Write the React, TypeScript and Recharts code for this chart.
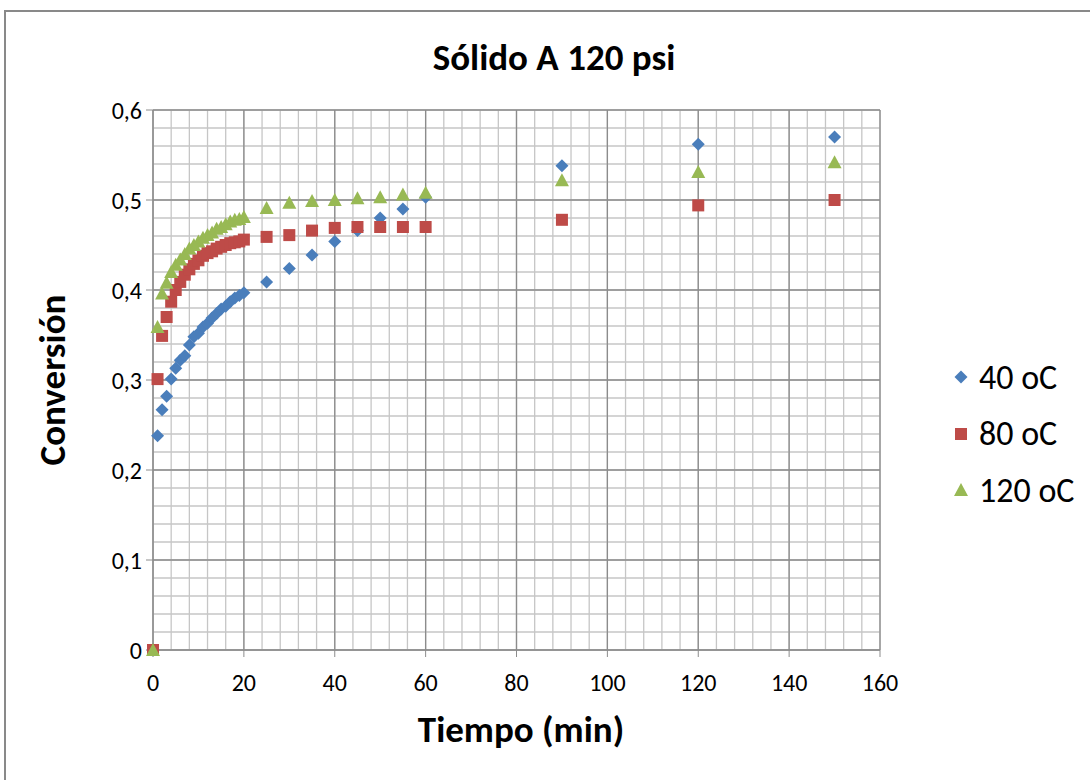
import React from "react"
import { ScatterChart, Scatter, XAxis, YAxis, CartesianGrid } from "recharts"

const tiempo = [0, 1, 2, 3, 4, 5, 6, 7, 8, 9, 10, 11, 12, 13, 14, 15, 16, 17, 18, 19, 20, 25, 30, 35, 40, 45, 50, 55, 60, 90, 120, 150]

const conv40 = [0, 0.238, 0.267, 0.282, 0.301, 0.313, 0.322, 0.327, 0.339, 0.348, 0.352, 0.359, 0.363, 0.369, 0.374, 0.379, 0.382, 0.387, 0.391, 0.394, 0.397, 0.409, 0.424, 0.439, 0.454, 0.466, 0.48, 0.49, 0.503, 0.538, 0.562, 0.57]
const conv80 = [0, 0.301, 0.349, 0.37, 0.387, 0.4, 0.409, 0.417, 0.423, 0.429, 0.433, 0.438, 0.441, 0.443, 0.446, 0.448, 0.45, 0.452, 0.453, 0.454, 0.456, 0.459, 0.461, 0.466, 0.469, 0.47, 0.47, 0.47, 0.47, 0.478, 0.494, 0.5]
const conv120 = [0, 0.359, 0.396, 0.408, 0.42, 0.428, 0.434, 0.44, 0.446, 0.45, 0.454, 0.458, 0.461, 0.464, 0.468, 0.47, 0.473, 0.476, 0.478, 0.479, 0.481, 0.491, 0.497, 0.499, 0.5, 0.502, 0.503, 0.506, 0.508, 0.522, 0.531, 0.542]

const xTicks = [0, 20, 40, 60, 80, 100, 120, 140, 160]
const yTicks = [0, 0.1, 0.2, 0.3, 0.4, 0.5, 0.6]
const xMinorTicks = [0, 4, 8, 12, 16, 20, 24, 28, 32, 36, 40, 44, 48, 52, 56, 60, 64, 68, 72, 76, 80, 84, 88, 92, 96, 100, 104, 108, 112, 116, 120, 124, 128, 132, 136, 140, 144, 148, 152, 156, 160]
const yMinorTicks = [0, 0.02, 0.04, 0.06, 0.08, 0.1, 0.12, 0.14, 0.16, 0.18, 0.2, 0.22, 0.24, 0.26, 0.28, 0.3, 0.32, 0.34, 0.36, 0.38, 0.4, 0.42, 0.44, 0.46, 0.48, 0.5, 0.52, 0.54, 0.56, 0.58, 0.6]

const series = [
  { name: "40 oC", values: conv40, color: "#4A7EBB", shape: "diamond" },
  { name: "80 oC", values: conv80, color: "#BE4B48", shape: "square" },
  { name: "120 oC", values: conv120, color: "#98B954", shape: "triangle" },
]

const font = "Carlito, Calibri, 'Liberation Sans', sans-serif"
const X_MAX = 160
const Y_MAX = 0.6

function Marker({ cx, cy, shape, color }: any) {
  if (cx == null || cy == null) return null
  if (shape === "diamond") {
    const r = 6.5
    return <polygon points={`${cx},${cy - r} ${cx + r},${cy} ${cx},${cy + r} ${cx - r},${cy}`} fill={color} />
  }
  if (shape === "square") {
    const r = 6
    return <rect x={cx - r} y={cy - r} width={2 * r} height={2 * r} fill={color} />
  }
  const r = 7
  return <polygon points={`${cx},${cy - r} ${cx + r},${cy + 6} ${cx - r},${cy + 6}`} fill={color} />
}

function LegendBox() {
  return (
    <div style={{ fontFamily: font, fontSize: 34, color: "#000" }}>
      {series.map((s) => (
        <div key={s.name} style={{ display: "flex", alignItems: "center", height: 56.5 }}>
          <svg width={20} height={20} style={{ marginRight: 8 }}>
            <Marker cx={10} cy={10} shape={s.shape} color={s.color} />
          </svg>
          <span>{s.name}</span>
        </div>
      ))}
    </div>
  )
}

const fmt = (v: number) => String(v).replace(".", ",")

// minor grid positions, via the axis scale when it is passed in
const minorX = ({ xAxis, offset }: any) =>
  xMinorTicks.map((v) =>
    xAxis && typeof xAxis.scale === "function" ? xAxis.scale(v) : offset.left + (v / X_MAX) * offset.width
  )
const minorY = ({ yAxis, offset }: any) =>
  yMinorTicks.map((v) =>
    yAxis && typeof yAxis.scale === "function" ? yAxis.scale(v) : offset.top + (1 - v / Y_MAX) * offset.height
  )

export default function App() {
  return (
    <div style={{ position: "absolute", left: 0, top: 0, width: 1090, height: 780, overflow: "hidden", background: "#fff" }}>
      <div style={{ position: "absolute", left: 4, top: 10, width: 1100, height: 800, border: "2px solid #898989", boxSizing: "border-box" }} />
      <div style={{ position: "absolute", left: 0, width: 1108, top: 35, textAlign: "center", fontFamily: font, fontWeight: "bold", fontSize: 37 }}>
        Sólido A 120 psi
      </div>
      <div style={{ position: "absolute", left: 0, width: 1042, top: 707, textAlign: "center", fontFamily: font, fontWeight: "bold", fontSize: 37 }}>
        Tiempo (min)
      </div>
      <div style={{ position: "absolute", left: 52, top: 380, transform: "translate(-50%, -50%) rotate(-90deg)", whiteSpace: "nowrap", fontFamily: font, fontWeight: "bold", fontSize: 37 }}>
        Conversión
      </div>
      <ScatterChart width={1090} height={780} margin={{ top: 110, right: 210, bottom: 90, left: 93 }} style={{ position: "absolute", left: 0, top: 0 }}>
        <CartesianGrid
          stroke="#c6c6c6"
          strokeWidth={1.3}
          verticalCoordinatesGenerator={minorX}
          horizontalCoordinatesGenerator={minorY}
        />
        <CartesianGrid stroke="#8c8c8c" strokeWidth={1.3} />
        <XAxis
          type="number"
          dataKey="x"
          domain={[0, X_MAX]}
          ticks={xTicks}
          height={40}
          tickSize={7}
          tickMargin={17}
          stroke="#8c8c8c"
          tick={{ fill: "#000", fontSize: 24, fontFamily: font }}
        />
        <YAxis
          type="number"
          dataKey="y"
          domain={[0, Y_MAX]}
          ticks={yTicks}
          width={60}
          tickSize={7}
          tickMargin={4}
          stroke="#8c8c8c"
          tickFormatter={fmt}
          tick={{ fill: "#000", fontSize: 24, fontFamily: font }}
        />
        {series.map((s) => (
          <Scatter
            key={s.name}
            name={s.name}
            data={tiempo.map((t, i) => ({ x: t, y: s.values[i] }))}
            fill={s.color}
            isAnimationActive={false}
            shape={(p: any) => <Marker cx={p.cx} cy={p.cy} shape={s.shape} color={s.color} />}
          />
        ))}
      </ScatterChart>
      <div style={{ position: "absolute", left: 951, top: 349 }}>
        <LegendBox />
      </div>
    </div>
  )
}
